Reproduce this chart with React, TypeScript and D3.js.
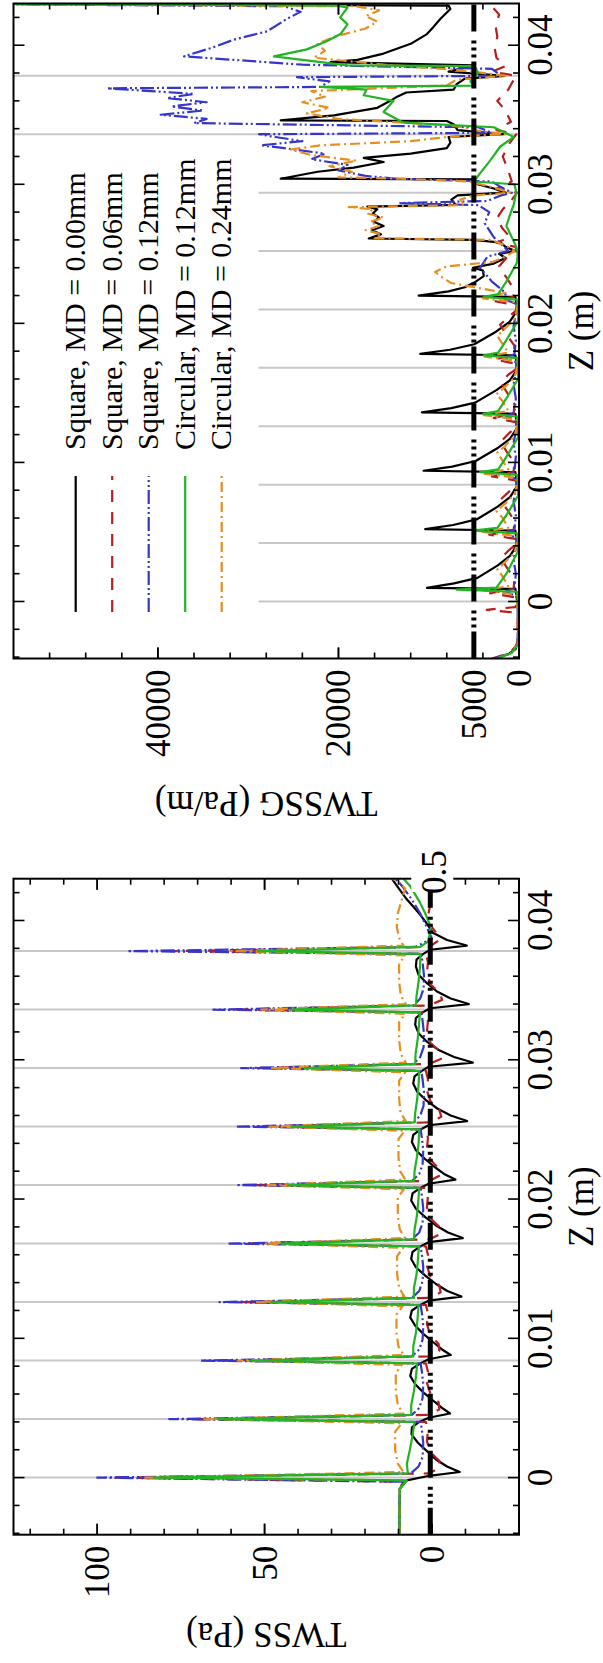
import React from "react";
import * as d3 from "d3";

type P = [number, number];

// picture is the landscape figure turned a quarter turn counter-clockwise
const IMG_W = 603;
const IMG_H = 1663;
const FONT = '"Liberation Serif", "Times New Roman", serif';

const seriesLabels = [
  "Square, MD = 0.00mm",
  "Square, MD = 0.06mm",
  "Square, MD = 0.12mm",
  "Circular, MD = 0.12mm",
  "Circular, MD = 0.24mm",
];
const seriesColors = ["#000000", "#b81e1e", "#3535cc", "#22b422", "#e88e1e"];
const seriesDash = ["", "12,10", "14,3,2,3,2,3", "", "10,4,2,4"];

const ribZ = [0, 0.0042, 0.0084, 0.0126, 0.0168, 0.021, 0.0252, 0.0294, 0.0336, 0.0378];
const zMajor = [0, 0.01, 0.02, 0.03, 0.04];
const zMajorLabels = ["0", "0.01", "0.02", "0.03", "0.04"];

const twssTicks = [0, 50, 100];
const twssTickLabels = ["0", "50", "100"];
const twssgTicks = [0, 5000, 20000, 40000];
const twssgTickLabels = ["0", "5000", "20000", "40000"];

// ---- TWSS (Pa) ----
const twssBlack: P[] = [
  [-0.0041, 9.8], [-0.0025, 9.7], [-0.0008, 9.6], [-0.0002, 7.5], [0.0001, 1.5], [0.0004, -8.3], [0.0008, -4.5], [0.0013, -1.2], [0.0019, 1.5], [0.0025, 4.2], [0.0031, 6.1], [0.0036, 6.0], [0.004, 3.8],
  [0.0043, 1.0], [0.0046, -5.4], [0.005, -3.0], [0.0055, -0.5], [0.0061, 2.5], [0.0067, 5.0], [0.0073, 6.5], [0.0078, 6.0], [0.0082, 3.5],
  [0.0085, 1.0], [0.0088, -5.6], [0.0092, -3.0], [0.0097, -0.5], [0.0103, 2.5], [0.0109, 5.0], [0.0115, 6.5], [0.012, 6.0], [0.0124, 3.5],
  [0.0127, 1.0], [0.013, -8.8], [0.0134, -4.6], [0.0139, -1.2], [0.0145, 2.0], [0.0151, 4.8], [0.0157, 6.2], [0.0162, 5.8], [0.0166, 3.5],
  [0.0169, 1.0], [0.0172, -9.2], [0.0176, -4.8], [0.0181, -1.2], [0.0187, 2.0], [0.0193, 4.8], [0.0199, 6.2], [0.0204, 5.8], [0.0208, 3.5],
  [0.0211, 1.0], [0.0214, -7.0], [0.0218, -3.6], [0.0223, -0.8], [0.0229, 2.2], [0.0235, 4.8], [0.0241, 6.0], [0.0246, 5.6], [0.025, 3.4],
  [0.0253, 1.0], [0.0256, -10.5], [0.026, -5.6], [0.0265, -1.6], [0.0271, 1.8], [0.0277, 4.4], [0.0283, 5.6], [0.0288, 5.2], [0.0292, 3.0],
  [0.0295, 1.0], [0.0298, -12.2], [0.0302, -6.6], [0.0307, -2.0], [0.0313, 1.5], [0.0319, 4.0], [0.0325, 5.0], [0.033, 4.8], [0.0334, 2.8],
  [0.0337, 0.5], [0.034, -11.0], [0.0344, -5.6], [0.0349, -1.5], [0.0355, 1.5], [0.0361, 4.0], [0.0367, 4.8], [0.0372, 4.6], [0.0376, 2.6],
  [0.0379, 0.5], [0.0382, -10.4], [0.0386, -4.5], [0.0391, -0.4], [0.0398, 1.6], [0.0404, 3.5], [0.041, 5.6], [0.0416, 7.8], [0.0422, 9.6], [0.043, 12.0],
];
const twssRed: P[] = [
  [-0.0041, 9.8], [-0.0025, 9.7], [-0.0008, 9.6], [-0.0003, 8.5], [0, 96], [0.0003, 1.0], [0.0007, -2.4], [0.0012, -2.2], [0.0018, 0.4], [0.0026, 1.5], [0.0034, 1.2], [0.004, 1.8],
  [0.0042, 72], [0.0045, 0.8], [0.0049, -2.2], [0.0054, -2.0], [0.006, 0.4], [0.0068, 1.5], [0.0076, 1.2], [0.0082, 1.8],
  [0.0084, 64], [0.0087, 0.8], [0.0091, -2.2], [0.0096, -2.0], [0.0102, 0.4], [0.011, 1.5], [0.0118, 1.2], [0.0124, 1.8],
  [0.0126, 58], [0.0129, 0.8], [0.0133, -2.6], [0.0138, -2.2], [0.0144, 0.4], [0.0152, 1.5], [0.016, 1.2], [0.0166, 1.8],
  [0.0168, 56], [0.0171, 0.8], [0.0175, -2.6], [0.018, -2.2], [0.0186, 0.4], [0.0194, 1.5], [0.0202, 1.2], [0.0208, 1.8],
  [0.021, 54], [0.0213, 0.8], [0.0217, -2.4], [0.0222, -2.0], [0.0228, 0.4], [0.0236, 1.5], [0.0244, 1.2], [0.025, 1.8],
  [0.0252, 53], [0.0255, 0.8], [0.0259, -2.8], [0.0264, -2.2], [0.027, 0.4], [0.0278, 1.5], [0.0286, 1.2], [0.0292, 1.8],
  [0.0294, 52], [0.0297, 0.8], [0.0301, -3.0], [0.0306, -2.4], [0.0312, 0.4], [0.032, 1.5], [0.0328, 1.2], [0.0334, 1.8],
  [0.0336, 60], [0.0339, 0.8], [0.0343, -3.0], [0.0348, -2.4], [0.0354, 0.4], [0.0362, 1.5], [0.037, 1.2], [0.0376, 1.8],
  [0.0378, 78], [0.0381, 0.8], [0.0386, -2.2], [0.0392, -1.0], [0.04, 1.5], [0.041, 0.6], [0.042, 1.2], [0.043, 2.0],
];
const twssBlue: P[] = [
  [-0.0041, 9.8], [-0.0025, 9.7], [-0.0008, 9.6], [-0.0003, 8.5],
  [0, 100], [0.0003, 6.3], [0.0008, 4.0], [0.0015, 2.8], [0.0025, 2.6], [0.0034, 3.0], [0.004, 3.4],
  [0.0042, 78.5], [0.0045, 6.0], [0.005, 3.8], [0.0057, 2.8], [0.0067, 2.6], [0.0076, 3.0], [0.0082, 3.4],
  [0.0084, 69], [0.0087, 6.0], [0.0092, 3.8], [0.0099, 2.8], [0.0109, 2.6], [0.0118, 3.0], [0.0124, 3.4],
  [0.0126, 63.5], [0.0129, 6.0], [0.0134, 3.8], [0.0141, 2.8], [0.0151, 2.6], [0.016, 3.0], [0.0166, 3.4],
  [0.0168, 60.5], [0.0171, 6.0], [0.0176, 3.8], [0.0183, 2.8], [0.0193, 2.6], [0.0202, 3.0], [0.0208, 3.4],
  [0.021, 58.5], [0.0213, 6.0], [0.0218, 3.8], [0.0225, 2.8], [0.0235, 2.6], [0.0244, 3.0], [0.025, 3.4],
  [0.0252, 58], [0.0255, 5.5], [0.026, 3.5], [0.0267, 2.5], [0.0277, 2.4], [0.0286, 2.8], [0.0292, 3.2],
  [0.0294, 57], [0.0297, 5.5], [0.0302, 3.5], [0.0309, 2.5], [0.0319, 2.4], [0.0328, 2.8], [0.0334, 3.2],
  [0.0336, 65.3], [0.0339, 5.5], [0.0344, 3.5], [0.0351, 2.5], [0.0361, 2.4], [0.037, 2.8], [0.0376, 3.2],
  [0.0378, 91], [0.0381, 5.0], [0.0387, 0.0], [0.0395, 1.5], [0.0405, 3.5], [0.0415, 6.0], [0.0425, 9.0], [0.043, 11.0],
];
const twssGreen: P[] = [
  [-0.0041, 9.7], [-0.0025, 9.7], [-0.0008, 9.6], [-0.0002, 7.5],
  [0, 83], [0.0003, 7.2], [0.001, 7.5], [0.002, 6.6], [0.003, 5.8], [0.004, 5.2],
  [0.0042, 64], [0.0045, 6.2], [0.0052, 6.2], [0.0062, 5.4], [0.0072, 4.8], [0.0082, 4.4],
  [0.0084, 54], [0.0087, 5.6], [0.0094, 5.6], [0.0104, 4.8], [0.0114, 4.3], [0.0124, 4.0],
  [0.0126, 48], [0.0129, 5.4], [0.0136, 5.4], [0.0146, 4.6], [0.0156, 4.2], [0.0166, 3.9],
  [0.0168, 45], [0.0171, 5.4], [0.0178, 5.2], [0.0188, 4.5], [0.0198, 4.1], [0.0208, 3.8],
  [0.021, 43], [0.0213, 5.3], [0.022, 5.2], [0.023, 4.5], [0.024, 4.0], [0.025, 3.8],
  [0.0252, 42], [0.0255, 5.2], [0.0262, 5.0], [0.0272, 4.4], [0.0282, 4.0], [0.0292, 3.8],
  [0.0294, 38], [0.0297, 5.0], [0.0304, 4.9], [0.0314, 4.3], [0.0324, 3.9], [0.0334, 3.6],
  [0.0336, 42], [0.0339, 4.8], [0.0346, 4.6], [0.0356, 4.0], [0.0366, 3.6], [0.0376, 3.4],
  [0.0378, 52], [0.0381, 3.5], [0.0385, 1.1], [0.0395, 0.3], [0.0405, 2.0], [0.0413, 3.6], [0.0425, 6.6], [0.043, 8.5],
];
const twssOrange: P[] = [
  [-0.0041, 9.7], [-0.0025, 9.7], [-0.0008, 9.6], [-0.0002, 7.5],
  [0, 86], [0.0004, 8.5], [0.001, 10.2], [0.002, 11.0], [0.0033, 11.0], [0.0039, 9.0],
  [0.0042, 68], [0.0046, 8.5], [0.0052, 10.2], [0.0062, 10.8], [0.0075, 10.8], [0.0081, 9.0],
  [0.0084, 58], [0.0088, 8.4], [0.0094, 10.0], [0.0104, 10.6], [0.0117, 10.6], [0.0123, 8.8],
  [0.0126, 53], [0.013, 8.2], [0.0136, 9.8], [0.0146, 10.4], [0.0159, 10.4], [0.0165, 8.6],
  [0.0168, 50], [0.0172, 8.0], [0.0178, 9.6], [0.0188, 10.2], [0.0201, 10.2], [0.0207, 8.4],
  [0.021, 49], [0.0214, 8.0], [0.022, 9.5], [0.023, 10.0], [0.0243, 10.0], [0.0249, 8.2],
  [0.0252, 48.5], [0.0256, 7.8], [0.0262, 9.4], [0.0272, 9.8], [0.0285, 9.8], [0.0291, 8.0],
  [0.0294, 48.4], [0.0298, 7.8], [0.0304, 9.3], [0.0314, 9.8], [0.0327, 9.8], [0.0333, 8.0],
  [0.0336, 51], [0.034, 7.8], [0.0346, 9.3], [0.0356, 9.8], [0.0369, 9.8], [0.0375, 8.0],
  [0.0378, 60], [0.0382, 8.5], [0.0386, 9.6], [0.0395, 10.5], [0.0405, 10.2], [0.0415, 9.0], [0.0423, 8.0], [0.0428, 10.0], [0.043, 12.0],
];

// ---- TWSSG (Pa/m) ----
const twssgBlack: P[] = [
  [-0.0041, 2600], [-0.0038, 1200], [-0.0034, 350], [-0.0025, 80], [-0.001, 60], [0, 200],
  [0.0009, 400], [0.00098, 10200], [0.0013, 7200], [0.0017, 4600], [0.0026, 2350], [0.0033, 970], [0.004, 300], [0.0042, 200],
  [0.0051, 400], [0.0052, 10390], [0.0055, 7300], [0.0059, 4700], [0.0068, 2400], [0.0075, 990], [0.0082, 300], [0.0084, 200],
  [0.0093, 400], [0.0094, 10570], [0.0097, 7400], [0.0101, 4800], [0.011, 2450], [0.0117, 1000], [0.0124, 300], [0.0126, 200],
  [0.0135, 400], [0.0136, 10750], [0.0139, 7500], [0.0143, 4850], [0.0152, 2500], [0.0159, 1000], [0.0166, 300], [0.0168, 200],
  [0.0177, 400], [0.0178, 10940], [0.0181, 7650], [0.0185, 4950], [0.0194, 2550], [0.0201, 1050], [0.0208, 300], [0.021, 200],
  [0.0219, 400], [0.022, 11120], [0.0223, 7800], [0.0226, 6000], [0.023, 4800], [0.0234, 3900], [0.0238, 4000], [0.024, 5100], [0.0243, 2800], [0.0247, 1500], [0.025, 2200], [0.0252, 400], [0.0255, 1500], [0.0258, 2000], [0.026, 5000],
  [0.0261, 16650], [0.0264, 15300], [0.0267, 16300], [0.027, 15000], [0.0273, 16100], [0.0276, 15500], [0.0279, 16200], [0.0282, 15700], [0.0284, 16800], [0.02852, 7000], [0.0289, 7500], [0.0292, 6800], [0.0294, 1500], [0.0297, 2800], [0.03, 4600], [0.03035, 5000],
  [0.0304, 26400], [0.0309, 22300], [0.0312, 18300], [0.0316, 15000], [0.0319, 17200], [0.0322, 12000], [0.0326, 8000], [0.033, 7600], [0.0334, 7800], [0.0336, 1700], [0.0339, 6800], [0.0343, 7200], [0.03455, 8000],
  [0.0346, 26400], [0.03495, 20500], [0.0355, 15700], [0.036, 14250], [0.0363, 13500], [0.0366, 12500], [0.0368, 7250], [0.0372, 6900], [0.0376, 6000], [0.0378, 1550], [0.0381, 7800], [0.03855, 5000],
  [0.03878, 20880], [0.03895, 17900], [0.0394, 15000], [0.0401, 12000], [0.0408, 10200], [0.0413, 9500], [0.0419, 8700], [0.0426, 7600], [0.04285, 7800], [0.043, 70000],
];
const twssgRed: P[] = [
  [-0.0041, 3000], [-0.0037, 1000], [-0.0031, 200], [-0.0012, 150], [-0.0008, 400], [-0.0006, 3570], [-0.0004, 400], [0, 150],
  [0.0003, 400], [0.0006, 3200], [0.0009, 600], [0.0016, 500], [0.0024, 1300], [0.0031, 2000], [0.0037, 1100], [0.0042, 150],
  [0.0045, 400], [0.0048, 3300], [0.0051, 600], [0.0058, 500], [0.0066, 1300], [0.0073, 2100], [0.0079, 1100], [0.0084, 150],
  [0.0087, 400], [0.009, 3000], [0.0093, 600], [0.01, 500], [0.0108, 1400], [0.0115, 2000], [0.0121, 1100], [0.0126, 150],
  [0.0129, 400], [0.0132, 2800], [0.0135, 600], [0.0142, 500], [0.015, 1300], [0.0157, 2000], [0.0163, 1200], [0.0168, 150],
  [0.0171, 400], [0.0174, 2700], [0.0177, 600], [0.0184, 500], [0.0192, 1400], [0.0199, 2100], [0.0205, 1100], [0.021, 150],
  [0.0213, 400], [0.0216, 2700], [0.0219, 600], [0.0226, 700], [0.0234, 1500], [0.0241, 2200], [0.0247, 1400], [0.0252, 200],
  [0.0255, 400], [0.0258, 2500], [0.0262, 1000], [0.0268, 1800], [0.0275, 2500], [0.0282, 1800], [0.0288, 900], [0.0294, 200],
  [0.0297, 2500], [0.0302, 800], [0.031, 1200], [0.032, 1800], [0.033, 1000], [0.0336, 300],
  [0.0339, 2500], [0.0345, 900], [0.0353, 1500], [0.036, 2400], [0.0368, 1200], [0.0375, 600], [0.0378, 300],
  [0.0381, 3000], [0.0385, 1500], [0.0391, 2500], [0.0398, 2700], [0.0406, 2400], [0.0414, 2600], [0.0422, 2200], [0.0428, 3000], [0.043, 3500],
];
const twssgBlue: P[] = [
  [-0.0041, 2800], [-0.0037, 900], [-0.0031, 150], [-0.0005, 150],
  [0.0004, 300], [0.0007, 1500], [0.001, 500], [0.002, 350], [0.003, 600], [0.004, 300],
  [0.0046, 300], [0.0049, 1500], [0.0052, 500], [0.0062, 350], [0.0072, 600], [0.0082, 300],
  [0.0088, 300], [0.0091, 1400], [0.0094, 500], [0.0104, 350], [0.0114, 600], [0.0124, 300],
  [0.013, 300], [0.0133, 1400], [0.0136, 500], [0.0146, 350], [0.0156, 600], [0.0166, 300],
  [0.0172, 300], [0.0175, 1400], [0.0178, 500], [0.0188, 350], [0.0198, 600], [0.0208, 300],
  [0.0214, 300], [0.0217, 1500], [0.0222, 1500], [0.023, 3000], [0.024, 4300], [0.0248, 3500], [0.0252, 1200],
  [0.0256, 1800], [0.0262, 2800], [0.0272, 3800], [0.028, 3300], [0.0285, 4500], [0.02865, 13150], [0.0288, 3500], [0.0292, 2000], [0.0294, 800],
  [0.0298, 2000], [0.0302, 3000], [0.0304, 13500], [0.0306, 17000], [0.031, 20000], [0.0314, 19000], [0.0318, 23000], [0.0322, 21500], [0.0326, 26000], [0.0328, 28600], [0.0331, 24000], [0.0334, 27000], [0.0336, 28800],
  [0.0337, 3000], [0.0341, 4500], [0.0344, 36000], [0.0347, 34600], [0.035, 39700], [0.0353, 35000], [0.0356, 38500], [0.0359, 34600], [0.0362, 39000], [0.0365, 36000], [0.0369, 45600],
  [0.037, 22000], [0.0374, 21000], [0.0377, 24600], [0.0378, 2000], [0.0383, 3000], [0.0386, 24000], [0.0392, 37100], [0.0398, 34100], [0.0404, 31600], [0.041, 27900], [0.0419, 25700], [0.0424, 24200], [0.0428, 26000], [0.043, 70000],
];
const twssgGreen: P[] = [
  [-0.0041, 2500], [-0.0037, 800], [-0.0031, 100], [-0.0005, 100],
  [0.0007, 200], [0.00085, 6900], [0.001, 2500], [0.002, 1400], [0.003, 600], [0.0036, 100], [0.0042, 100],
  [0.0049, 200], [0.0051, 5080], [0.0053, 2400], [0.0062, 1400], [0.0076, 100], [0.0084, 100],
  [0.0091, 200], [0.0093, 4300], [0.0095, 2300], [0.0104, 1400], [0.0118, 100], [0.0126, 100],
  [0.0133, 200], [0.0135, 3950], [0.0137, 2300], [0.0146, 1400], [0.016, 100], [0.0168, 100],
  [0.0175, 200], [0.0177, 3900], [0.0179, 2300], [0.0188, 1400], [0.0202, 100], [0.021, 100],
  [0.0217, 200], [0.0219, 3900], [0.0221, 2300], [0.023, 1400], [0.0244, 200], [0.0252, 150],
  [0.0255, 300], [0.0262, 800], [0.027, 1400], [0.0278, 1000], [0.0285, 600], [0.0294, 300], [0.03, 500],
  [0.0302, 5000], [0.0308, 4300], [0.0317, 3200], [0.0327, 2100], [0.0334, 600], [0.0337, 1500], [0.0341, 2800],
  [0.03443, 12780], [0.0352, 15000], [0.036, 13900], [0.0364, 17200], [0.0368, 16900], [0.037, 22000], [0.0371, 5000], [0.0374, 5400], [0.0377, 5000], [0.038, 4500], [0.0385, 5000],
  [0.03855, 19000], [0.0392, 27150], [0.0397, 23500], [0.0403, 21250], [0.0408, 19780], [0.0415, 19000], [0.042, 19800], [0.0427, 19000], [0.04285, 20000], [0.043, 70000],
];
const twssgOrange: P[] = [
  [-0.0041, 2400], [-0.0037, 900], [-0.0031, 150], [-0.0005, 150],
  [0.0005, 300], [0.0008, 4000], [0.0011, 1200], [0.0018, 1800], [0.0023, 2400], [0.0028, 1600], [0.0035, 500], [0.0042, 200],
  [0.0047, 300], [0.005, 4000], [0.0053, 1200], [0.006, 1800], [0.0065, 2500], [0.007, 1600], [0.0077, 500], [0.0084, 200],
  [0.0089, 300], [0.0092, 3900], [0.0095, 1200], [0.0102, 1900], [0.0107, 2400], [0.0112, 1500], [0.0119, 500], [0.0126, 200],
  [0.0131, 300], [0.0134, 3900], [0.0137, 1200], [0.0144, 1800], [0.0149, 2500], [0.0154, 1600], [0.0161, 500], [0.0168, 200],
  [0.0173, 300], [0.0176, 3800], [0.0179, 1200], [0.0186, 1900], [0.0191, 2400], [0.0196, 1600], [0.0203, 500], [0.021, 200],
  [0.0215, 300], [0.0218, 4000], [0.0222, 1500], [0.0226, 5000], [0.0229, 7500], [0.0233, 8500], [0.0237, 9300], [0.0241, 8000], [0.0244, 3000], [0.0248, 1500], [0.0252, 500], [0.0256, 1500], [0.026, 3000],
  [0.02612, 16000], [0.0264, 15200], [0.0267, 17000], [0.027, 15500], [0.0273, 16500], [0.0276, 15000], [0.0279, 16800], [0.0282, 16200], [0.02836, 18860], [0.0285, 6000], [0.0289, 6500], [0.0292, 5000], [0.0294, 1000],
  [0.0298, 3000], [0.0302, 5500], [0.0304, 13000], [0.0305, 20000], [0.0309, 18500], [0.0313, 21000], [0.0317, 18000], [0.0321, 23000], [0.0325, 25300], [0.0328, 22000], [0.0331, 12000], [0.0334, 8000], [0.0336, 1500],
  [0.0339, 5000], [0.0342, 7000], [0.0344, 12000], [0.0347, 20000], [0.0351, 23500], [0.0355, 21000], [0.0359, 24000], [0.0363, 21500], [0.0367, 23000], [0.0371, 8000], [0.0375, 7000], [0.0378, 1500],
  [0.0382, 6500], [0.0386, 15000], [0.0391, 22700], [0.0396, 21500], [0.0401, 22300], [0.0406, 20500], [0.0412, 17000], [0.0417, 15700], [0.0421, 17000], [0.0425, 15500], [0.0428, 18000], [0.043, 70000],
];

const zDomain: [number, number] = [-0.0041, 0.043];
const TOP = 13.5;
const BOTTOM = 519;

const panels = [
  {
    id: "twss",
    x0: 128.3,
    x1: 784.3,
    domain: [-26, 125] as [number, number],
    minor: d3.range(-20, 121, 10),
    ticks: twssTicks,
    tickLabels: twssTickLabels,
    majorTicks: twssTicks,
    title: "TWSS (Pa)",
    titleX: 40,
    refValue: 0.5,
    series: [twssBlack, twssRed, twssBlue, twssGreen, twssOrange],
  },
  {
    id: "twssg",
    x0: 1004.5,
    x1: 1659.5,
    domain: [0, 56000] as [number, number],
    minor: d3.range(4000, 52001, 4000),
    ticks: twssgTicks,
    tickLabels: twssgTickLabels,
    majorTicks: [0, 20000, 40000],
    title: "TWSSG (Pa/m)",
    titleX: 871,
    refValue: 5000,
    series: [twssgBlack, twssgRed, twssgBlue, twssgGreen, twssgOrange],
  },
];

const drawOrder = [0, 1, 2, 4, 3];

function Panel({ p, legend }: { p: any; legend: boolean }) {
  const z = d3.scaleLinear().domain(zDomain).range([p.x0, p.x1]);
  const y = d3.scaleLinear().domain(p.domain).range([BOTTOM, TOP]);
  const line = d3.line<P>().x((d) => z(d[0])).y((d) => y(d[1]));
  const zMinor = d3.range(-4, 43, 2).map((v) => v / 1000);
  const cx = (p.x0 + p.x1) / 2;
  const cy = (TOP + BOTTOM) / 2;
  return (
    <g>
      <defs>
        <clipPath id={`clip-${p.id}`}>
          <rect x={p.x0} y={TOP} width={p.x1 - p.x0} height={BOTTOM - TOP} />
        </clipPath>
      </defs>
      {ribZ.map((r, i) => (
        <line key={i} x1={z(r)} x2={z(r)} y1={TOP} y2={BOTTOM} stroke="#c8c8c8" strokeWidth={2} />
      ))}
      {legend && <rect x={1038} y={TOP + 1} width={480} height={244} fill="#fff" />}
      <g clipPath={`url(#clip-${p.id})`}>
        {drawOrder.map((i) => (
          <path
            key={i}
            d={line(p.series[i]) || ""}
            fill="none"
            stroke={seriesColors[i]}
            strokeWidth={2.2}
            strokeDasharray={seriesDash[i] || undefined}
            strokeLinejoin="round"
          />
        ))}
        <line
          x1={p.x0}
          x2={p.x1}
          y1={y(p.refValue)}
          y2={y(p.refValue)}
          stroke="#000"
          strokeWidth={5}
          strokeDasharray="27,4,3,4,3,4,3,9"
        />
      </g>
      <rect x={p.x0} y={TOP} width={p.x1 - p.x0} height={BOTTOM - TOP} fill="none" stroke="#000" strokeWidth={2} />
      {/* Z ticks, top and bottom */}
      {zMinor.map((t, i) => {
        const major = zMajor.some((m) => Math.abs(m - t) < 1e-9);
        const len = major ? 11 : 6;
        return (
          <g key={i}>
            <line x1={z(t)} x2={z(t)} y1={BOTTOM} y2={BOTTOM - len} stroke="#000" strokeWidth={1.6} />
            <line x1={z(t)} x2={z(t)} y1={TOP} y2={TOP + len} stroke="#000" strokeWidth={1.6} />
          </g>
        );
      })}
      {zMajor.map((t, i) => (
        <text key={i} x={z(t)} y={552} textAnchor="middle" fontSize={35} fontFamily={FONT}>
          {zMajorLabels[i]}
        </text>
      ))}
      <text x={cx} y={593} textAnchor="middle" fontSize={35} fontFamily={FONT}>
        Z (m)
      </text>
      {/* value ticks, left and right */}
      {[...p.minor, ...p.majorTicks].map((t: number, i: number) => {
        const major = p.majorTicks.includes(t);
        const len = major ? 11 : 6;
        return (
          <g key={i}>
            <line x1={p.x0} x2={p.x0 + len} y1={y(t)} y2={y(t)} stroke="#000" strokeWidth={1.6} />
            <line x1={p.x1} x2={p.x1 - len} y1={y(t)} y2={y(t)} stroke="#000" strokeWidth={1.6} />
          </g>
        );
      })}
      {p.ticks.map((t: number, i: number) => (
        <text key={i} x={p.x0 - 11} y={y(t) + 12} textAnchor="end" fontSize={35} fontFamily={FONT}>
          {p.tickLabels[i]}
        </text>
      ))}
      <text
        transform={`translate(${p.titleX},${cy}) rotate(-90)`}
        textAnchor="middle"
        fontSize={35}
        fontFamily={FONT}
      >
        {p.title}
      </text>
    </g>
  );
}

export default function App() {
  const legendRows = seriesLabels.map((s, i) => ({ s, v: 75.7 + i * 36.5 }));
  const refY = d3.scaleLinear().domain(panels[0].domain).range([BOTTOM, TOP])(0.5);
  return (
    <div style={{ position: "absolute", left: 0, top: 0 }}>
      <svg width={IMG_W} height={IMG_H} style={{ display: "block", background: "#fff" }}>
        <rect width={IMG_W} height={IMG_H} fill="#fff" />
        <g transform={`translate(0,${IMG_H}) rotate(-90)`}>
          <Panel p={panels[0]} legend={false} />
          <Panel p={panels[1]} legend={true} />
          {legendRows.map((r, i) => (
            <g key={i}>
              <line
                x1={1051}
                x2={1187}
                y1={r.v}
                y2={r.v}
                stroke={seriesColors[i]}
                strokeWidth={2.2}
                strokeDasharray={seriesDash[i] || undefined}
              />
              <text x={1213} y={r.v + 9.5} fontSize={30} fontFamily={FONT}>
                {r.s}
              </text>
            </g>
          ))}
          <rect x={771} y={refY - 19} width={41} height={42} fill="#fff" />
          <text x={791} y={refY + 16} textAnchor="middle" fontSize={35} fontFamily={FONT}>
            0.5
          </text>
        </g>
      </svg>
    </div>
  );
}
